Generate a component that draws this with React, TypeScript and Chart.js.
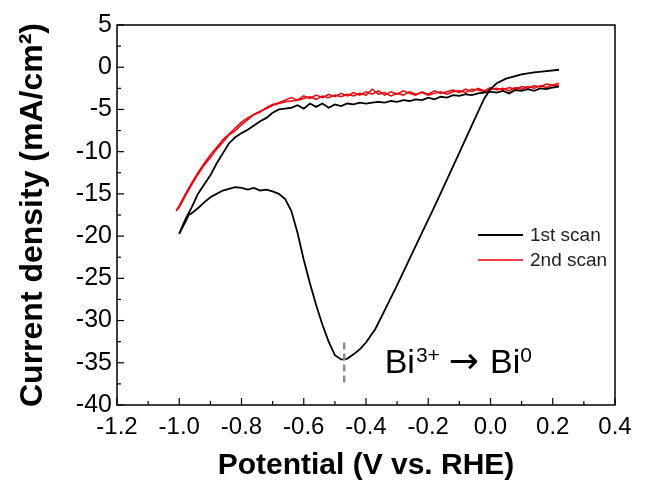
import React, { useEffect, useRef } from "react";
import { Chart, registerables } from "chart.js";

Chart.register(...registerables);

// ---- Data ----
const scan1CathodicX = [0.22, 0.18, 0.14, 0.10, 0.05, 0.02, 0.0, -0.02, -0.04, -0.06, -0.10, -0.14, -0.18, -0.22, -0.26, -0.30, -0.34, -0.37, -0.40, -0.42, -0.44, -0.46, -0.47, -0.48, -0.50, -0.52, -0.54, -0.56, -0.58, -0.60, -0.62, -0.64, -0.66, -0.68, -0.70, -0.72, -0.74, -0.76, -0.78, -0.80, -0.82, -0.84, -0.86, -0.88, -0.90, -0.92, -0.94, -0.96, -0.97, -0.98, -0.99, -1.0];
const scan1CathodicY = [-0.3, -0.45, -0.6, -0.85, -1.35, -1.9, -2.6, -3.7, -5.3, -6.9, -10.1, -13.3, -16.5, -19.6, -22.7, -25.8, -28.8, -31.0, -32.6, -33.4, -34.0, -34.5, -34.6, -34.6, -34.1, -32.5, -30.5, -28.2, -25.6, -22.8, -19.6, -17.0, -15.6, -15.0, -14.7, -14.5, -14.6, -14.3, -14.5, -14.3, -14.2, -14.4, -14.6, -15.0, -15.4, -16.0, -16.7, -17.3, -17.5, -18.3, -19.0, -19.7];

const scan1AnodicX = [-1.0, -0.98, -0.96, -0.94, -0.92, -0.90, -0.88, -0.86, -0.84, -0.82, -0.80, -0.78, -0.76, -0.74, -0.72, -0.70, -0.68, -0.66, -0.64, -0.62, -0.60, -0.58, -0.56, -0.54, -0.52, -0.50, -0.48, -0.46, -0.44, -0.42, -0.40, -0.38, -0.36, -0.34, -0.32, -0.30, -0.28, -0.26, -0.24, -0.22, -0.20, -0.18, -0.16, -0.14, -0.12, -0.10, -0.08, -0.06, -0.04, -0.02, 0.0, 0.02, 0.04, 0.06, 0.08, 0.10, 0.12, 0.14, 0.16, 0.18, 0.20, 0.22];
const scan1AnodicY = [-19.7, -18.0, -16.6, -15.0, -13.9, -12.8, -11.4, -10.2, -9.0, -8.3, -7.8, -7.4, -6.9, -6.4, -6.0, -5.4, -5.0, -4.9, -4.8, -4.5, -4.9, -4.3, -4.7, -4.3, -4.8, -4.4, -4.6, -4.3, -4.4, -4.2, -4.3, -4.2, -4.1, -4.2, -4.0, -4.1, -3.9, -4.0, -3.8, -3.9, -3.6, -3.8, -3.5, -3.6, -3.3, -3.4, -3.2, -3.3, -3.1, -3.0, -2.9, -3.0, -2.8, -3.1, -2.7, -2.8, -2.6, -2.8, -2.5, -2.6, -2.4, -2.3];

const scan2CathodicX = [0.22, 0.20, 0.18, 0.16, 0.14, 0.12, 0.10, 0.08, 0.06, 0.04, 0.02, 0.0, -0.02, -0.04, -0.06, -0.08, -0.10, -0.12, -0.14, -0.16, -0.18, -0.20, -0.22, -0.24, -0.26, -0.28, -0.30, -0.32, -0.34, -0.36, -0.38, -0.40, -0.42, -0.44, -0.46, -0.48, -0.50, -0.52, -0.54, -0.56, -0.58, -0.60, -0.62, -0.64, -0.66, -0.68, -0.70, -0.72, -0.74, -0.76, -0.78, -0.80, -0.82, -0.84, -0.86, -0.88, -0.90, -0.92, -0.94, -0.96, -0.98, -1.0, -1.01];
const scan2CathodicY = [-1.9, -2.1, -2.0, -2.3, -2.2, -2.5, -2.3, -2.6, -2.4, -2.7, -2.5, -2.6, -2.9, -2.7, -2.6, -3.0, -2.8, -2.9, -3.2, -2.9, -3.1, -3.3, -3.0, -3.2, -2.9, -3.3, -3.1, -3.4, -3.0, -3.2, -2.6, -3.3, -3.1, -3.4, -3.2, -3.5, -3.3, -3.6, -3.4, -3.8, -3.5, -3.7, -3.9, -4.0, -4.1, -4.3, -4.5, -4.9, -5.2, -5.6, -6.0, -6.5, -7.2, -7.9, -8.6, -9.5, -10.4, -11.4, -12.5, -13.7, -15.0, -16.4, -17.0];

const scan2AnodicX = [-1.01, -1.0, -0.98, -0.96, -0.94, -0.92, -0.90, -0.88, -0.86, -0.84, -0.82, -0.80, -0.78, -0.76, -0.74, -0.72, -0.70, -0.68, -0.66, -0.64, -0.62, -0.60, -0.58, -0.56, -0.54, -0.52, -0.50, -0.48, -0.46, -0.44, -0.42, -0.40, -0.38, -0.36, -0.34, -0.32, -0.30, -0.28, -0.26, -0.24, -0.22, -0.20, -0.18, -0.16, -0.14, -0.12, -0.10, -0.08, -0.06, -0.04, -0.02, 0.0, 0.02, 0.04, 0.06, 0.08, 0.10, 0.12, 0.14, 0.16, 0.18, 0.20, 0.22];
const scan2AnodicY = [-17.0, -16.6, -15.2, -13.9, -12.7, -11.6, -10.7, -9.7, -8.9, -8.0, -7.5, -6.8, -6.2, -5.6, -5.3, -4.8, -4.4, -4.2, -3.9, -3.6, -3.9, -3.4, -3.7, -3.3, -3.6, -3.2, -3.5, -3.1, -3.4, -3.0, -3.3, -2.9, -3.2, -2.8, -3.3, -2.9, -3.2, -2.8, -3.1, -3.3, -2.9, -3.2, -2.8, -3.1, -2.9, -2.7, -3.0, -2.6, -2.9, -2.5, -2.8, -2.4, -2.7, -2.5, -2.8, -2.4, -2.6, -2.3, -2.5, -2.2, -2.4, -2.1, -2.2];

const seriesNames = ["1st scan", "2nd scan"];
const seriesColors = ["#000000", "#e8000b"];

const xTicks = [-1.2, -1.0, -0.8, -0.6, -0.4, -0.2, 0.0, 0.2, 0.4];
const yTicks = [5, 0, -5, -10, -15, -20, -25, -30, -35, -40];

const peakX = -0.47;
const peakMarkY = [-32.6, -37.4];
const annotationAnchor = { x: -0.34, y: -36.2 };

const xTitle = "Potential (V vs. RHE)";
const yTitle = "Current density (mA/cm²)";

const FONT = "'Liberation Sans', Arial, 'DejaVu Sans', sans-serif";

function pts(xs: number[], ys: number[]) {
  return xs.map((x, i) => ({ x, y: ys[i] }));
}

const decorPlugin = {
  id: "decor",
  afterDatasetsDraw(chart: any) {
    const { ctx, chartArea: a, scales } = chart;
    const xs = scales.x;
    const ys = scales.y;
    ctx.save();
    // frame
    ctx.strokeStyle = "#000";
    ctx.lineWidth = 1.5;
    ctx.strokeRect(a.left, a.top, a.right - a.left, a.bottom - a.top);
    // inward ticks
    ctx.lineWidth = 1.2;
    for (let i = 0; i < xTicks.length; i++) {
      const px = xs.getPixelForValue(xTicks[i]);
      ctx.beginPath();
      ctx.moveTo(px, a.bottom);
      ctx.lineTo(px, a.bottom - 7);
      ctx.stroke();
      if (i < xTicks.length - 1) {
        const mx = xs.getPixelForValue((xTicks[i] + xTicks[i + 1]) / 2);
        ctx.beginPath();
        ctx.moveTo(mx, a.bottom);
        ctx.lineTo(mx, a.bottom - 4);
        ctx.stroke();
      }
    }
    for (let i = 0; i < yTicks.length; i++) {
      const py = ys.getPixelForValue(yTicks[i]);
      ctx.beginPath();
      ctx.moveTo(a.left, py);
      ctx.lineTo(a.left + 7, py);
      ctx.stroke();
      if (i < yTicks.length - 1) {
        const my = ys.getPixelForValue((yTicks[i] + yTicks[i + 1]) / 2);
        ctx.beginPath();
        ctx.moveTo(a.left, my);
        ctx.lineTo(a.left + 4, my);
        ctx.stroke();
      }
    }
    // legend
    const lx0 = a.right - 137;
    const lx1 = a.right - 92;
    const lys = [a.top + 210, a.top + 235];
    ctx.font = `19px ${FONT}`;
    ctx.textBaseline = "middle";
    ctx.textAlign = "left";
    for (let i = 0; i < seriesNames.length; i++) {
      ctx.strokeStyle = seriesColors[i];
      ctx.lineWidth = i === 0 ? 2 : 1.6;
      ctx.beginPath();
      ctx.moveTo(lx0, lys[i]);
      ctx.lineTo(lx1, lys[i]);
      ctx.stroke();
      ctx.fillStyle = "#222";
      ctx.fillText(seriesNames[i], lx1 + 7, lys[i] + 1);
    }
    // peak marker
    const pkx = xs.getPixelForValue(peakX);
    ctx.strokeStyle = "#8c8c8c";
    ctx.lineWidth = 2.5;
    ctx.setLineDash([7, 4]);
    ctx.beginPath();
    ctx.moveTo(pkx, ys.getPixelForValue(peakMarkY[0]));
    ctx.lineTo(pkx, ys.getPixelForValue(peakMarkY[1]));
    ctx.stroke();
    ctx.setLineDash([]);
    // annotation text
    let tx = xs.getPixelForValue(annotationAnchor.x);
    const ty = ys.getPixelForValue(annotationAnchor.y);
    ctx.fillStyle = "#000";
    ctx.textBaseline = "alphabetic";
    const big = `34px ${FONT}`;
    const small = `21px ${FONT}`;
    const arrowFont = `36px 'DejaVu Sans', sans-serif`;
    const parts: [string, string, number, number][] = [
      ["Bi", big, 0, 1],
      ["3+", small, -11, 9],
      ["\u2192", arrowFont, 0, 11],
      ["Bi", big, 0, 0],
      ["0", small, -11, 0],
    ];
    for (const [t, f, dy, gap] of parts) {
      ctx.font = f;
      ctx.fillText(t, tx, ty + dy);
      tx += ctx.measureText(t).width + gap;
    }
    ctx.restore();
  },
};

export default function App() {
  const ref = useRef<HTMLCanvasElement | null>(null);
  useEffect(() => {
    document.body.style.margin = "0";
    const canvas = ref.current;
    if (!canvas) return;
    const common = { showLine: true, pointRadius: 0, fill: false, tension: 0 };
    const chart = new Chart(canvas, {
      type: "scatter",
      data: {
        datasets: [
          { ...common, label: "1st scan a", data: pts(scan1CathodicX, scan1CathodicY), borderColor: seriesColors[0], borderWidth: 1.8 },
          { ...common, label: "1st scan b", data: pts(scan1AnodicX, scan1AnodicY), borderColor: seriesColors[0], borderWidth: 1.8 },
          { ...common, label: "2nd scan a", data: pts(scan2CathodicX, scan2CathodicY), borderColor: seriesColors[1], borderWidth: 1.5 },
          { ...common, label: "2nd scan b", data: pts(scan2AnodicX, scan2AnodicY), borderColor: seriesColors[1], borderWidth: 1.5 },
        ],
      },
      options: {
        animation: false,
        responsive: false,
        devicePixelRatio: 1,
        layout: { padding: { top: 25, right: 41, left: 0, bottom: 0 } },
        plugins: { legend: { display: false }, tooltip: { enabled: false } },
        scales: {
          x: {
            type: "linear",
            min: -1.2,
            max: 0.4,
            afterBuildTicks: (s: any) => { s.ticks = xTicks.map((v) => ({ value: v })); },
            afterFit: (s: any) => { s.height = 86; },
            ticks: {
              color: "#000",
              font: { family: FONT, size: 24 },
              padding: 8,
              maxRotation: 0,
              autoSkip: false,
              callback: (v: any) => (Math.abs(Number(v)) < 1e-9 ? "0.0" : Number(v).toFixed(1)),
            },
            grid: { display: false, drawTicks: false },
            border: { display: false },
            title: { display: true, text: xTitle, color: "#000", font: { family: FONT, size: 30, weight: "bold" }, padding: { top: 0, bottom: 7 } },
          },
          y: {
            type: "linear",
            min: -40,
            max: 5,
            afterBuildTicks: (s: any) => { s.ticks = yTicks.map((v) => ({ value: v })); },
            afterFit: (s: any) => { s.width = 117; },
            ticks: {
              color: "#000",
              font: { family: FONT, size: 25 },
              padding: 5,
              autoSkip: false,
              callback: (v: any) => String(Math.round(Number(v))),
            },
            grid: { display: false, drawTicks: false },
            border: { display: false },
            title: { display: true, text: yTitle, color: "#000", font: { family: FONT, size: 32, weight: "bold" }, padding: { top: 14, bottom: 0 } },
          },
        },
      },
      plugins: [decorPlugin],
    } as any);
    return () => chart.destroy();
  }, []);
  return (
    <div style={{ position: "fixed", left: 0, top: 0, width: 656, height: 491, background: "#fff" }}>
      <canvas ref={ref} width={656} height={491} style={{ width: 656, height: 491 }} />
    </div>
  );
}
